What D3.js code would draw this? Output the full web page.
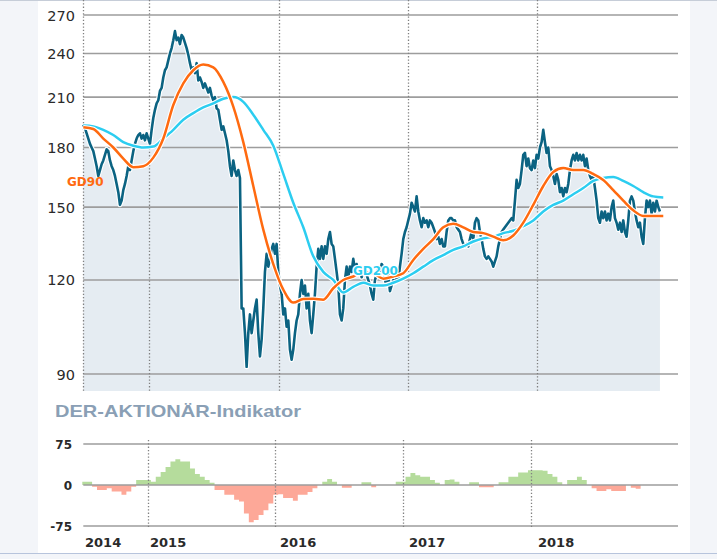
<!DOCTYPE html>
<html><head><meta charset="utf-8">
<script src="https://cdn.jsdelivr.net/npm/d3@7"></script>
<style>
html,body{margin:0;padding:0;background:#f3f5f9;}
svg{display:block;}
</style></head><body>
<svg id="c" width="717" height="559"></svg>
<script>
// ---------------- DATA ----------------
const priceStart = "2014-06-28";
const priceStepDays = 4.708;
const priceValues = [
193,191,188,185,182,180,178,174,170,165,168,171,173,176,179,178,173,170,168,165,
161,157,151,153,158,161,165,170,168,173,178,182,185,187,188,185,187,184,188,185,
182,190,197,202,206,208,214,216,223,228,230,235,240,244,250,257,250,252,247,254,
252,248,244,239,233,228,230,226,233,221,223,220,216,219,216,213,216,211,208,210,
203,202,196,190,192,
188,184,178,170,165,173,168,165,168,164,110,110,102,92,102,108,102,106,110,113,
102,95,100,110,123,130,125,128,132,134,130,134,123,118,115,108,110,104,106,97,
94,97,102,106,108,115,120,115,118,110,115,106,102,108,115,125,132,128,133,128,
133,130,136,139,134,133,128,123,118,108,106,110,120,125,121,125,123,128,124,126,
123,125,121,123,124,122,120,118,115,113,
120,122,125,122,126,125,120,118,122,116,118,120,119,121,120,125,130,136,139,141,
144,147,152,150,148,155,148,144,141,145,143,144,141,144,143,141,139,136,137,134,
136,133,133,139,144,145,145,144,144,141,140,139,136,134,133,134,133,136,139,136,
143,145,144,139,136,132,129,128,129,128,127,125,127,129,133,136,139,140,141,142,
143,144,145,144,153,163,159,161,
168,176,177,170,174,169,168,173,169,176,174,180,183,190,183,177,180,170,168,165,
161,166,163,157,159,155,159,157,161,168,173,176,173,177,173,176,173,176,170,174,
168,165,163,165,159,153,145,143,148,145,148,144,147,144,150,153,145,143,140,143,
139,144,139,137,144,153,155,153,148,144,141,143,137,134,145,153,150,153,147,152,
148,153,150,148
];
const gdStepDays = 6 * priceStepDays;
const gd90Values = [
191.5,190.5,185,180,174,169.5,170,174.5,185,205,219,228,232,230,220,204,183,160,140,126,
116.5,112,113.2,113.3,113,117,120,121.3,123,122.5,120.5,121.3,122.5,127.6,132,136,141,142.5,141,139,
138.5,137,135.5,137.5,143,151,160,167,169,168,168,166,163,158,153,148.5,146,146,146
];
const gd200Values = [
192.5,192,190,187,183,181,180,180.5,185,190,196,200,203.5,206,209,210,207,199,190,181,
166,152,141,129,123,120,115.5,117.5,119,118,118,119,120.5,122.5,125,127.5,129.5,131.6,133,135,
136.3,137,138.5,139.5,141.5,144,148,151,153,156,159,162.5,164,164.5,162.5,160,157,155,154.5
];
const indStart = "2014-06-28";
const indStepDays = 14;
const indValues = [
6,6,-3,-9,-9,-6,-12,-12,-18,-12,-3,9,9,9,6,15,24,33,43,47,
43,43,30,20,15,9,4,-9,-9,-18,-18,-27,-30,-52,-68,-64,-55,-46,-34,-18,
-17,-24,-24,-29,-18,-18,-13,-6,0,6,11,6,0,-5,-5,0,0,5,5,-4,
0,0,0,0,6,6,15,22,18,15,15,9,4,0,9,10,6,0,0,5,
5,-4,-4,-4,0,5,5,15,15,23,23,27,27,27,26,20,15,5,0,9,
9,15,9,0,-6,-11,-11,-8,-11,-11,-11,0,-5,-7,0,0,0
];
const priceTicks = [90,120,150,180,210,240,270];
const indTicks = [75,0,-75];
const yearLabels = ["2014","2015","2016","2017","2018"];
const yearDates = ["2014-06-28","2015-01-01","2016-01-01","2017-01-01","2018-01-01"];
const labelGD90 = "GD90";
const labelGD200 = "GD200";
const indTitle = "DER-AKTIONÄR-Indikator";

// ---------------- SETUP ----------------
const svg = d3.select("#c");
const parse = d3.utcParse("%Y-%m-%d");
const DAY = 864e5;
const t0 = parse(priceStart);
const domain = [t0, parse("2019-02-02")];

const x = d3.scaleUtc().domain(domain).range([83.3, 678]);
const xl = d3.scaleUtc().domain(domain).range([82.3, 670]);
const y = d3.scaleLog().domain([90, 270]).range([374, 15]);
const yi = d3.scaleLinear().domain([-75, 75]).range([526, 444]);

const price = priceValues.map((v, i) => ({d: new Date(t0.getTime() + i * priceStepDays * DAY), v}));
const gd90 = gd90Values.map((v, i) => ({d: new Date(t0.getTime() + i * gdStepDays * DAY), v}));
const gd200 = gd200Values.map((v, i) => ({d: new Date(t0.getTime() + i * gdStepDays * DAY), v}));
const it0 = parse(indStart);
const ind = indValues.map((v, i) => ({d: new Date(it0.getTime() + i * indStepDays * DAY), v}));

const COL_PRICE = "#0b6382", COL_90 = "#ff6a10", COL_200 = "#2ccdf0";
const GRID = "#9d9d9d", DOT = "#808080";

// panel
svg.append("rect").attr("x", 38).attr("y", 0).attr("width", 652).attr("height", 553).attr("fill", "#ffffff");
svg.append("line").attr("x1", 0).attr("x2", 717).attr("y1", 0.5).attr("y2", 0.5).attr("stroke", "#c6cdd8");
svg.append("line").attr("x1", 0).attr("x2", 717).attr("y1", 553.5).attr("y2", 553.5).attr("stroke", "#b7c4dc");

// ---------------- UPPER PANEL ----------------
const yBottom = 391;
svg.append("path").datum(price)
  .attr("fill", "#e5ecf2")
  .attr("d", d3.area().x(d => x(d.d)).y0(yBottom).y1(d => y(d.v)));

svg.append("g").selectAll("line").data(priceTicks).join("line")
  .attr("x1", 83.3).attr("x2", 678)
  .attr("y1", d => y(d)).attr("y2", d => y(d))
  .attr("stroke", GRID).attr("stroke-width", 1.7);

const vYears = yearDates.map(parse);
svg.append("g").selectAll("line").data(vYears).join("line")
  .attr("x1", d => Math.round(x(d)) + 0.5).attr("x2", d => Math.round(x(d)) + 0.5)
  .attr("y1", 0).attr("y2", yBottom)
  .attr("stroke", DOT).attr("stroke-width", 1.3).attr("stroke-dasharray", "1.3,2");

const line = d3.line().x(d => x(d.d)).y(d => y(d.v));
const smooth = d3.line().x(d => x(d.d)).y(d => y(d.v)).curve(d3.curveMonotoneX);

function drawLine(data, gen, col, w) {
  svg.append("path").datum(data).attr("fill", "none").attr("stroke", "#fff")
    .attr("stroke-width", w + 2.2).attr("stroke-linejoin", "round").attr("d", gen);
  svg.append("path").datum(data).attr("fill", "none").attr("stroke", col)
    .attr("stroke-width", w).attr("stroke-linejoin", "round").attr("d", gen);
}
drawLine(price, line, COL_PRICE, 2.6);
drawLine(gd200, smooth, COL_200, 2.5);
drawLine(gd90, smooth, COL_90, 2.5);

svg.append("text").attr("x", 67).attr("y", 186).text(labelGD90)
  .attr("font-family", "DejaVu Sans").attr("font-weight", "bold").attr("font-size", 12)
  .attr("fill", COL_90);
svg.append("text").attr("x", 353).attr("y", 275).text(labelGD200)
  .attr("font-family", "DejaVu Sans").attr("font-weight", "bold").attr("font-size", 12)
  .attr("fill", COL_200).attr("stroke", "#fff").attr("stroke-width", 2.5)
  .attr("paint-order", "stroke");

svg.append("g").selectAll("text").data(priceTicks).join("text")
  .attr("x", 75).attr("y", d => y(d) + 5.5).attr("text-anchor", "end")
  .attr("font-family", "DejaVu Sans").attr("font-size", 14.5).attr("fill", "#2a2a2a")
  .text(d => d);

// ---------------- LOWER PANEL ----------------
svg.append("text").attr("x", 55).attr("y", 417).text(indTitle)
  .attr("font-family", "Liberation Sans, Arial, sans-serif").attr("font-weight", "bold")
  .attr("font-size", 16.5).attr("fill", "#8a9fb5")
  .attr("textLength", 246).attr("lengthAdjust", "spacingAndGlyphs");

const areaPos = d3.area().curve(d3.curveStepAfter).x(d => xl(d.d)).y0(yi(0)).y1(d => yi(Math.max(0, d.v)));
const areaNeg = d3.area().curve(d3.curveStepAfter).x(d => xl(d.d)).y0(yi(0)).y1(d => yi(Math.min(0, d.v)));
svg.append("path").datum(ind).attr("fill", "#b5dc9c").attr("d", areaPos);
svg.append("path").datum(ind).attr("fill", "#fda898").attr("d", areaNeg);

svg.append("g").selectAll("line").data(indTicks).join("line")
  .attr("x1", 83.3).attr("x2", 678)
  .attr("y1", d => yi(d)).attr("y2", d => yi(d))
  .attr("stroke", GRID).attr("stroke-width", 1.7);

svg.append("g").selectAll("line").data(vYears.slice(1)).join("line")
  .attr("x1", d => Math.round(xl(d)) + 0.5).attr("x2", d => Math.round(xl(d)) + 0.5)
  .attr("y1", 440).attr("y2", 528)
  .attr("stroke", DOT).attr("stroke-width", 1.3).attr("stroke-dasharray", "1.3,2");

svg.append("g").selectAll("text").data(indTicks).join("text")
  .attr("x", 72).attr("y", d => yi(d) + 4.5).attr("text-anchor", "end")
  .attr("font-family", "DejaVu Sans").attr("font-weight", "bold").attr("font-size", 12).attr("fill", "#2a2a2a")
  .text(d => d);

svg.append("g").selectAll("text").data(yearLabels).join("text")
  .attr("x", (d, i) => i === 0 ? 85 : Math.round(x(vYears[i])) + 1).attr("y", 547)
  .attr("font-family", "DejaVu Sans").attr("font-weight", "bold").attr("font-size", 13).attr("fill", "#2a2a2a")
  .text(d => d);
</script>
</body></html>
